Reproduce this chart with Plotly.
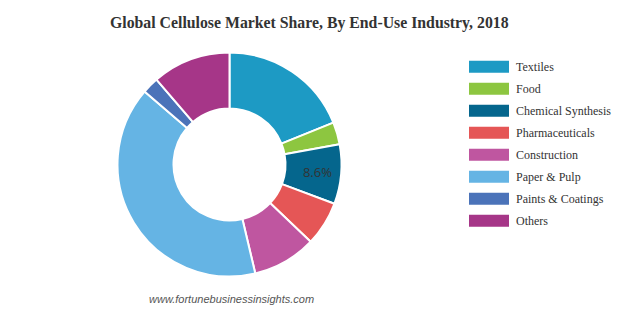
import plotly.graph_objects as go

labels = ["Textiles", "Food", "Chemical Synthesis", "Pharmaceuticals",
          "Construction", "Paper & Pulp", "Paints & Coatings", "Others"]
values = [18.9, 3.2, 8.6, 6.4, 9.2, 40.0, 2.4, 11.3]
colors = ["#1d9ac4", "#8dc640", "#05668d", "#e55656",
          "#bf56a0", "#65b4e4", "#4b73b9", "#a63688"]
shown_text = ["", "", "8.6%", "", "", "", "", ""]

W, H = 623, 310

fig = go.Figure()
fig.add_trace(go.Pie(
    labels=labels,
    values=values,
    text=shown_text,
    textinfo="text",
    textposition="inside",
    insidetextorientation="horizontal",
    textfont=dict(family="Open Sans, sans-serif", size=13, color="#333333"),
    marker=dict(colors=colors, line=dict(color="#ffffff", width=2)),
    hole=0.5,
    sort=False,
    direction="clockwise",
    rotation=0,
    domain=dict(x=[117.5 / W, 341.5 / W], y=[(H - 276.5) / H, (H - 52.5) / H]),
    showlegend=False,
))

# custom legend (wide colour bars like the reference)
x0, x1 = 469 / W, 509 / W
for i, (lab, col) in enumerate(zip(labels, colors)):
    yc = 66.7 + i * 22.0
    fig.add_shape(type="rect", xref="paper", yref="paper",
                  x0=x0, x1=x1, y0=(H - yc - 6) / H, y1=(H - yc + 6) / H,
                  fillcolor=col, line=dict(width=0))
    fig.add_annotation(xref="paper", yref="paper", x=513.5 / W, y=(H - yc) / H,
                       text=lab, showarrow=False, xanchor="left", yanchor="middle",
                       font=dict(family="Liberation Serif, Times New Roman, serif",
                                 size=12, color="#333333"))

fig.add_annotation(xref="paper", yref="paper", x=309 / W, y=(H - 23) / H,
                   text="<b>Global Cellulose Market Share, By End-Use Industry, 2018</b>",
                   showarrow=False, xanchor="center", yanchor="middle",
                   font=dict(family="Liberation Serif, Times New Roman, serif",
                             size=15.8, color="#333333"))

fig.add_annotation(xref="paper", yref="paper", x=231 / W, y=(H - 299) / H,
                   text="<i>www.fortunebusinessinsights.com</i>",
                   showarrow=False, xanchor="center", yanchor="middle",
                   font=dict(family="Liberation Sans, Arial, sans-serif",
                             size=11, color="#555555"))

fig.update_layout(width=W, height=H, margin=dict(l=0, r=0, t=0, b=0),
                  paper_bgcolor="white", plot_bgcolor="white")

fig.write_html("out.html")
